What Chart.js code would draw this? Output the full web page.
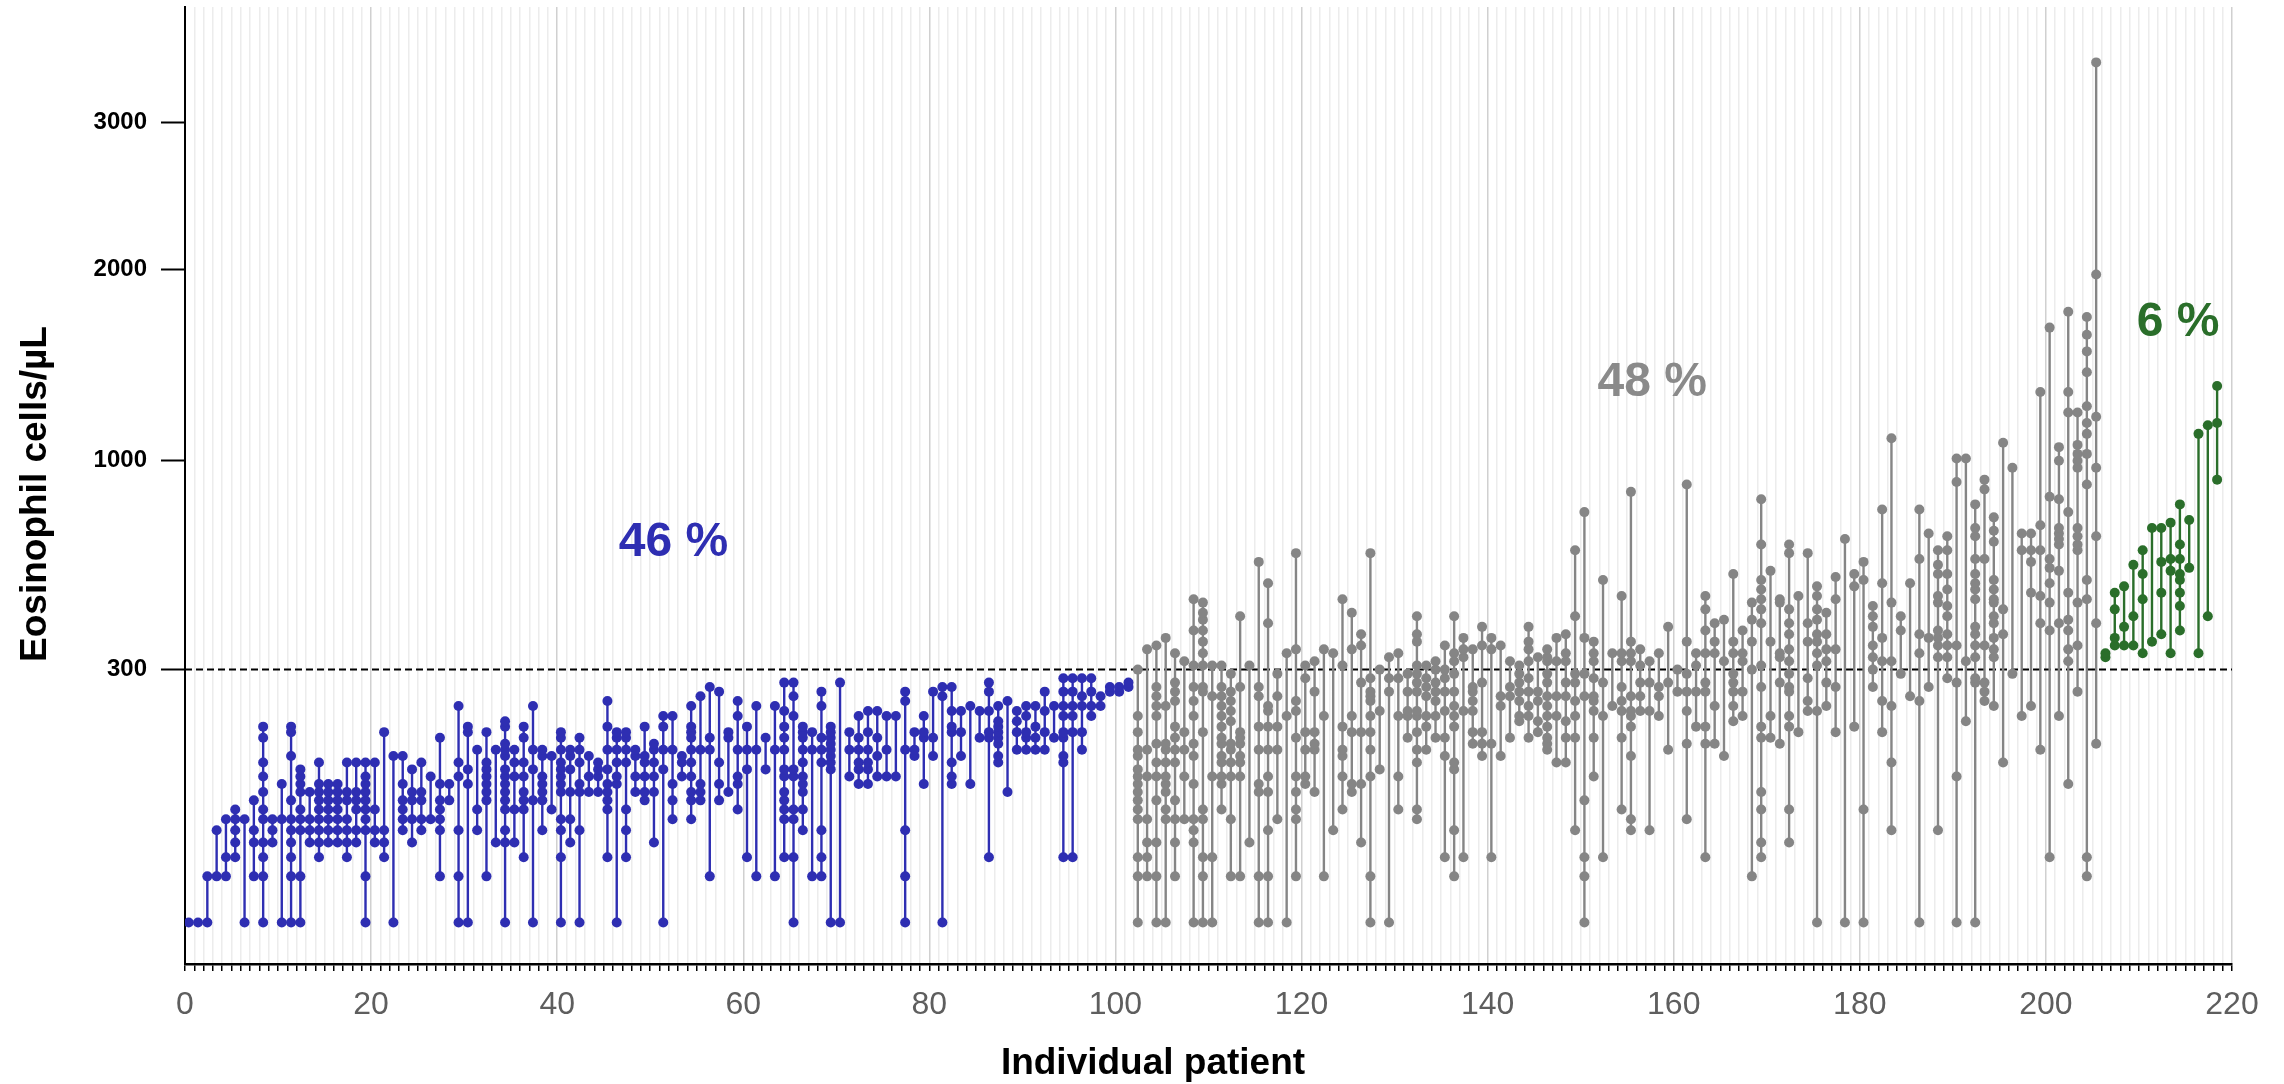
<!DOCTYPE html>
<html>
<head>
<meta charset="utf-8">
<script src="https://cdn.jsdelivr.net/npm/chart.js@4.4.1/dist/chart.umd.min.js"></script>
<style>
  html, body { margin: 0; padding: 0; background: #fff; }
  #wrap { width: 2284px; height: 1084px; }
</style>
</head>
<body>
<div id="wrap"><canvas id="myChart" width="2284" height="1084"></canvas></div>
<script>
// eosinophil counts per patient (cells/µL), one inner array per patient
const blueValues = [
  [0], [0], [0,10], [10,40], [10,20,50], [20,30,40,50,60], [0,50], [10,30,40,70],
  [0,10,20,30,50,60,80,100,120,160,180], [30,40,50], [0,50,90],
  [0,10,20,30,40,50,70,130,170,180], [0,10,40,50,60,80,90,100,110], [30,40,50,80],
  [20,30,40,50,60,70,80,90,120], [30,40,50,60,70,80,90], [30,40,50,60,70,80,90],
  [20,30,40,50,70,80,120], [30,40,60,70,80,120], [0,10,40,50,60,70,80,90,100,120],
  [30,40,60,120], [20,30,40,170], [0,130], [40,50,60,70,90,130], [30,50,70,80,110],
  [40,50,70,80,120], [50,100], [10,40,50,60,70,90,160], [70,90], [0,10,40,100,120,220],
  [0,90,110,170,180], [40,60,140], [10,70,80,90,100,110,120,170], [30,140],
  [0,30,40,60,70,80,90,100,110,130,140,150,180,190], [30,60,100,120,140],
  [20,60,70,80,100,120,160,180], [0,70,110,140,220], [40,70,80,90,100,130,140], [60,130],
  [0,20,40,50,80,90,100,110,120,140,160,170], [30,50,80,110,130,140],
  [0,40,80,90,120,140,160], [80,100,130], [80,100,110,120], [20,60,70,80,90,110,140,180,230],
  [0,90,100,120,140,160,170], [20,40,60,120,140,160,170], [80,100,130,140],
  [70,80,100,120,130,180], [30,80,100,120,140,150], [0,110,140,180,200], [50,70,90,140,200],
  [100,120,130], [50,70,80,100,120,140,160,170,180,220], [70,80,90,140,240], [10,140,160,260],
  [70,90,120,250], [80,160,170], [60,90,100,140,200,230], [20,110,140,180], [10,140,220],
  [110,160], [10,140,220], [20,50,60,70,80,100,110,140,160,180,210,270],
  [0,20,50,60,100,110,200,240,270], [40,60,80,90,100,120,140,160,170,180], [10,140,170],
  [10,20,40,120,140,160,220,250], [0,110,120,130,140,150,160,170,180], [0,270], [100,140,170],
  [90,110,120,140,160,200], [90,110,120,140,170,210], [100,130,160,210], [100,140,200], [100,200],
  [0,10,40,140,230,250], [130,140,170], [90,160,170,200], [130,160,250], [0,240,260],
  [90,100,120,170,180,210,260], [130,170,210], [90,220], [160,210], [20,160,170,210,250,270],
  [120,130,150,160,170,180,190,220], [80,230], [140,170,190,210], [140,160,170,200,220],
  [140,160,180,220], [140,170,210,250], [160,220], [20,120,130,160,170,200,220,250,280],
  [20,170,200,220,250,280], [140,170,220,240,280], [200,220,250,280], [220,240], [250,260],
  [250,260], [260,270]
];

const grayValues = [
  [0,10,20,50,60,70,80,90,100,110,130,140,170,200,300], [10,20,30,50,100,140,350],
  [0,10,30,70,100,120,150,200,220,240,260,360], [0,50,60,80,90,100,120,140,150,220,380],
  [10,30,50,70,120,140,160,180,230,250,270,340], [50,100,140,170,320],
  [0,30,40,50,90,130,150,200,230,260,310,400,490],
  [0,10,20,50,60,170,250,260,310,340,370,400,430,450,480], [0,20,100,240,310],
  [60,90,100,120,130,150,160,180,200,220,240,260,310], [10,50,100,120,140,150,190,210,230,250,290],
  [10,100,120,130,150,160,170,260,440], [30,310], [0,10,80,90,140,180,240,260,610],
  [0,10,40,80,100,140,180,210,220,420,540], [50,140,180,240,290], [0,200,340],
  [10,50,60,80,100,160,210,230,350,640], [90,100,140,170,280,310], [80,140,150,170,250,320],
  [10,200,350], [40,340], [60,100,130,140,180,310,490], [80,90,170,200,350,450],
  [30,90,170,270,360,390], [0,10,100,140,170,200,230,240,250,280,640],
  [110,210,300], [0,250,280,330], [60,100,200,280,340], [160,200,210,250,290],
  [50,60,120,140,170,200,210,250,270,290,310,370,390,440], [140,180,200,240,260,280,310],
  [160,200,230,250,270,300,320], [20,130,160,210,250,280,300,360],
  [10,40,110,120,180,200,220,250,290,320,340,440], [20,210,330,350,380],
  [150,170,210,230,250,260,350], [130,150,170,270,360,410], [20,150,350,380], [130,220,240,360],
  [160,240,260,320], [190,200,230,250,270,290,310], [160,200,220,250,280,320,350,370,410],
  [170,190,230,250,330], [140,150,160,180,200,220,240,270,290,320,330,350], [120,200,240,320,380],
  [120,160,190,240,270,320,340,390], [40,160,200,230,270,290,440,650], [0,10,20,70,240,290,380,790],
  [100,160,210,230,240,280,320,340,370], [20,200,270,550], [220,340],
  [60,160,210,230,260,320,340,500], [40,50,130,180,200,210,240,320,340,370,870],
  [210,240,270,310,350], [40,210,270,320], [200,240,260,340], [140,270,410], [250,300],
  [50,150,210,250,290,370,900], [180,250,310,340], [20,150,180,250,270,340,400,460,500],
  [150,220,340,370,420], [130,320,430], [190,220,250,270,290,340,370,570], [200,250,320,340,400],
  [10,300,370,430,480], [20,30,60,80,160,180,260,310,420,460,490,520,550,670,840],
  [160,200,370,580], [150,270,330,340,480,490],
  [30,60,180,200,250,260,290,320,350,390,420,460,640,670], [170,500], [210,230,280,370,420,640],
  [0,210,310,340,370,390,430,460,500,530], [220,270,320,350,390,450], [170,260,350,490,560],
  [0,690], [180,530,570], [0,60,550,610], [260,300,330,360,410,440,470], [170,230,320,380,540,800],
  [40,120,220,320,480,1100], [290,400,440], [240,540], [0,230,340,390,620,800], [260,380,710],
  [40,330,360,380,400,480,500,570,600,650], [280,330,360,390,440,470,520,570,650,700],
  [0,100,270,360,910,1010], [190,320,1010],
  [0,270,280,330,360,390,410,490,520,540,570,620,700,730,820], [230,250,270,360,620,880,920],
  [220,330,350,380,420,440,480,490,520,550,680,720,770], [120,390,460,1080], [290,970],
  [200,650,710], [220,510,610,650,710], [140,420,500,650,740,1320],
  [20,400,480,540,590,620,850,1660], [200,420,580,670,690,710,730,840,1000,1060],
  [90,320,350,400,430,510,790,1220,1320,1750], [250,360,480,650,670,700,730,970,1000,1030,1070,1220],
  [10,20,490,550,900,1030,1120,1170,1250,1420,1530,1620,1720], [150,420,700,970,1200,1970,3470]
];

const greenValues = [
  [330,340], [360,380,460,510], [360,410,530], [360,440,600], [340,490,570,650], [370,730],
  [390,510,610,730], [340,580,620,750], [400,470,510,550,570,620,670,820], [590,760],
  [340,1120], [440,1160], [920,1170,1350]
];

const threshold = 300;
const yTickValues = [300, 1000, 2000, 3000];
const groupLabels = [
  { text: '46 %', x: 52.5, y: 676, color: '#2e2eb2' },
  { text: '48 %', x: 157.7, y: 1365, color: '#8a8a8a' },
  { text: '6 %', x: 214.2, y: 1688, color: '#2a6e2a' }
];

const blue = '#2e2eb2';
const gray = '#858585';
const green = '#2a6e2a';
const font = '"Liberation Sans", Arial, Helvetica, sans-serif';

// patients are placed one per unit, starting just right of 0
function patientX(i) { return i + 0.4; }

function pointsOf(groupValues, start) {
  const pts = [];
  groupValues.forEach((vals, i) => {
    vals.forEach(v => pts.push({ x: patientX(start + i), y: Math.sqrt(v) }));
  });
  return pts;
}

function linesOf(groupValues, start) {
  const pts = [];
  groupValues.forEach((vals, i) => {
    const x = patientX(start + i);
    pts.push({ x: x, y: Math.sqrt(Math.min(...vals)) });
    pts.push({ x: x, y: Math.sqrt(Math.max(...vals)) });
    pts.push({ x: x, y: null });
  });
  return pts;
}

const grayStart = blueValues.length;
const greenStart = grayStart + grayValues.length;

function pointSet(data, color) {
  return { data: data, backgroundColor: color, borderWidth: 0, pointRadius: 5, order: 0 };
}
function lineSet(data, color) {
  return { data: data, showLine: true, spanGaps: false, borderColor: color, borderWidth: 2.4, pointRadius: 0, order: 1 };
}

const textPlugin = {
  id: 'texts',
  afterDraw(chart) {
    const { ctx, scales: { x, y } } = chart;
    ctx.save();
    ctx.textAlign = 'center';
    ctx.textBaseline = 'middle';
    ctx.font = 'bold 48px ' + font;
    groupLabels.forEach(l => {
      ctx.fillStyle = l.color;
      ctx.fillText(l.text, x.getPixelForValue(l.x), y.getPixelForValue(Math.sqrt(l.y)));
    });
    ctx.fillStyle = '#000';
    ctx.font = 'bold 37px ' + font;
    ctx.fillText('Individual patient', 1153, 1064);
    ctx.translate(36, 494);
    ctx.rotate(-Math.PI / 2);
    ctx.fillText('Eosinophil cells/µL', 0, 0);
    ctx.restore();
  }
};

function noPad(scale) {
  scale.paddingTop = 0;
  scale.paddingBottom = 0;
  scale.paddingLeft = 0;
  scale.paddingRight = 0;
}

const ctx = document.getElementById('myChart');

new Chart(ctx, {
  type: 'scatter',
  data: {
    datasets: [
      pointSet(pointsOf(blueValues, 0), blue),
      pointSet(pointsOf(grayValues, grayStart), gray),
      pointSet(pointsOf(greenValues, greenStart), green),
      lineSet(linesOf(blueValues, 0), blue),
      lineSet(linesOf(grayValues, grayStart), gray),
      lineSet(linesOf(greenValues, greenStart), green),
      {
        data: [{ x: 0, y: Math.sqrt(threshold) }, { x: 220, y: Math.sqrt(threshold) }],
        showLine: true, borderColor: '#000', borderWidth: 2, borderDash: [7, 4], pointRadius: 0, order: 2
      }
    ]
  },
  options: {
    responsive: false,
    animation: false,
    events: [],
    layout: { padding: { top: 7, right: 52, left: 0, bottom: 0 } },
    plugins: { legend: { display: false }, tooltip: { enabled: false } },
    scales: {
      x: {
        type: 'linear',
        min: 0,
        max: 220,
        afterFit(scale) { scale.height = 120; noPad(scale); },
        border: { display: true, color: '#000', width: 2.5 },
        grid: {
          color: c => (c.tick && c.tick.value % 20 === 0) ? '#d0d0d0' : '#ececec',
          lineWidth: 1.5,
          tickColor: '#000',
          tickLength: 7,
          tickWidth: 1.5
        },
        ticks: {
          stepSize: 1,
          autoSkip: false,
          maxRotation: 0,
          padding: 15,
          color: '#5e5e5e',
          font: { family: font, size: 32 },
          callback: v => (v % 20 === 0 ? v : '')
        }
      },
      y: {
        type: 'linear',
        min: -2.84,
        max: 62.7,
        afterFit(scale) { scale.width = 185; noPad(scale); },
        afterBuildTicks(scale) { scale.ticks = yTickValues.map(v => ({ value: Math.sqrt(v) })); },
        border: { display: true, color: '#000', width: 2 },
        grid: { drawOnChartArea: false, tickColor: '#000', tickLength: 24, tickWidth: 2 },
        ticks: {
          padding: 14,
          color: '#000',
          font: { family: font, size: 24, weight: 'bold' },
          callback: v => Math.round(v * v)
        }
      }
    }
  },
  plugins: [textPlugin]
});
</script>
</body>
</html>
